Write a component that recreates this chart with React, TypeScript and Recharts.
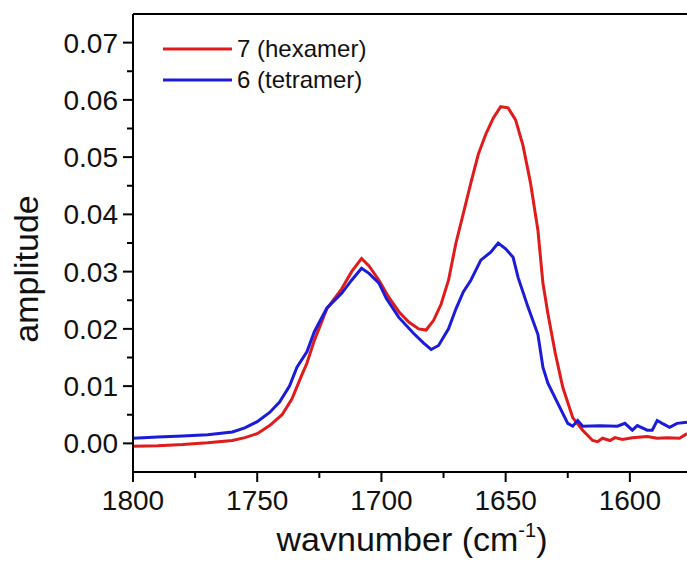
import { LineChart, Line, XAxis, YAxis, ReferenceLine } from "recharts";

// 7 (hexamer) — red trace
const hexWave = [
  1800, 1790, 1780, 1770, 1760, 1755, 1750, 1745, 1740, 1736, 1732, 1730, 1727, 1722, 1716, 1712,
  1708, 1705, 1701, 1697, 1693, 1689, 1685, 1682, 1679, 1676, 1673, 1670, 1667, 1664, 1661, 1658,
  1655, 1652, 1649, 1646, 1643, 1640, 1637, 1635, 1633, 1630, 1627, 1623, 1619, 1615, 1613, 1611,
  1608, 1606, 1603, 1599, 1593, 1589, 1585, 1580, 1577,
];
const hexAmp = [
  -0.0005, -0.0004, -0.0002, 0.0001, 0.0005, 0.001, 0.0017, 0.0031, 0.005, 0.0078, 0.012, 0.014,
  0.018, 0.0235, 0.027, 0.03, 0.0323, 0.031, 0.0285, 0.0255, 0.023, 0.0212, 0.02, 0.0198, 0.0215,
  0.0243, 0.0285, 0.035, 0.0402, 0.0455, 0.0505, 0.054, 0.0568, 0.0588, 0.0586, 0.0565, 0.052,
  0.0455, 0.0372, 0.028, 0.0227, 0.0157, 0.0098, 0.0045, 0.0023, 0.0005, 0.0003, 0.0009, 0.0005,
  0.001, 0.0007, 0.001, 0.0012, 0.0009, 0.001, 0.0009, 0.0017,
];

// 6 (tetramer) — blue trace
const tetWave = [
  1800, 1790, 1780, 1770, 1760, 1755, 1750, 1745, 1741, 1737, 1734, 1730, 1727, 1722, 1716, 1712,
  1708, 1705, 1701, 1698, 1693, 1687, 1683, 1680, 1677, 1673, 1670, 1667, 1664, 1660, 1656, 1653,
  1650, 1647, 1645, 1641, 1637, 1635, 1633, 1629, 1625, 1623, 1621, 1619, 1612, 1605, 1602, 1599,
  1597, 1593, 1591, 1589, 1587, 1584, 1581, 1577,
];
const tetAmp = [
  0.0009, 0.0011, 0.0013, 0.0015, 0.002, 0.0027, 0.0038, 0.0054, 0.0072, 0.01, 0.0133, 0.016,
  0.0195, 0.0236, 0.0262, 0.0285, 0.0306, 0.0297, 0.028, 0.0253, 0.022, 0.0192, 0.0175, 0.0164,
  0.0171, 0.02, 0.0235, 0.0265, 0.0285, 0.032, 0.0334, 0.035, 0.034, 0.0325, 0.029, 0.0238, 0.019,
  0.0133, 0.0105, 0.007, 0.0035, 0.003, 0.004, 0.003, 0.0031, 0.003, 0.0035, 0.0023, 0.0031,
  0.0023, 0.0023, 0.004, 0.0035, 0.0028, 0.0035, 0.0037,
];

const xTicks = [1800, 1775, 1750, 1725, 1700, 1675, 1650, 1625, 1600];
const yTicks = [
  0, 0.005, 0.01, 0.015, 0.02, 0.025, 0.03, 0.035, 0.04, 0.045, 0.05, 0.055, 0.06, 0.065, 0.07,
];

const hexData = hexWave.map((w, i) => ({ w, a: hexAmp[i] }));
const tetData = tetWave.map((w, i) => ({ w, a: tetAmp[i] }));

const RED = "#e01b1b";
const BLUE = "#1c1cd8";
const FONT = "'Liberation Sans', Arial, sans-serif";

const legendItems = [
  { name: "7 (hexamer)", color: RED },
  { name: "6 (tetramer)", color: BLUE },
];

function YTick(props: any) {
  const { x, y, payload } = props;
  const major = Math.round(payload.value * 1000) % 10 === 0;
  return (
    <g>
      <line x1={x} x2={x - (major ? 10 : 6)} y1={y} y2={y} stroke="#000" strokeWidth={2} />
      {major && (
        <text x={x - 15} y={y} dy="0.36em" textAnchor="end" fontSize={28} fontFamily={FONT} fill="#111">
          {payload.value.toFixed(2)}
        </text>
      )}
    </g>
  );
}

function XTick(props: any) {
  const { x, y, payload } = props;
  const major = payload.value % 50 === 0;
  return (
    <g>
      <line x1={x} x2={x} y1={y} y2={y + (major ? 10 : 6)} stroke="#000" strokeWidth={2} />
      {major && (
        <text x={x} y={y + 38} textAnchor="middle" fontSize={28} fontFamily={FONT} fill="#111">
          {payload.value}
        </text>
      )}
    </g>
  );
}

export default function App() {
  return (
    <div style={{ position: "absolute", left: 0, top: 0, width: 687, height: 562, background: "#fff" }}>
      <LineChart width={687} height={562} margin={{ top: 14, right: 0, bottom: 0, left: 0 }}>
        <XAxis
          type="number"
          dataKey="w"
          domain={[1577, 1800]}
          reversed
          allowDataOverflow
          ticks={xTicks}
          interval={0}
          height={90}
          tickSize={0}
          tickMargin={0}
          tick={<XTick />}
          axisLine={{ stroke: "#000", strokeWidth: 2 }}
        />
        <YAxis
          type="number"
          domain={[-0.005, 0.075]}
          allowDataOverflow
          ticks={yTicks}
          interval={0}
          width={133}
          tickSize={0}
          tickMargin={0}
          tick={<YTick />}
          axisLine={{ stroke: "#000", strokeWidth: 2 }}
        />
        <ReferenceLine y={0.075} stroke="#000" strokeWidth={2} />
        <Line
          data={hexData}
          dataKey="a"
          name="7 (hexamer)"
          stroke={RED}
          strokeWidth={3}
          dot={false}
          type="linear"
          isAnimationActive={false}
        />
        <Line
          data={tetData}
          dataKey="a"
          name="6 (tetramer)"
          stroke={BLUE}
          strokeWidth={3}
          dot={false}
          type="linear"
          isAnimationActive={false}
        />
      </LineChart>
      <svg
        width={687}
        height={562}
        style={{ position: "absolute", left: 0, top: 0, pointerEvents: "none" }}
      >
        {legendItems.map((it, i) => (
          <g key={it.name}>
            <line x1={163} x2={232} y1={49 + i * 31} y2={49 + i * 31} stroke={it.color} strokeWidth={3} />
            <text x={237} y={57 + i * 31} fontSize={24} fontFamily={FONT} fill="#111">
              {it.name}
            </text>
          </g>
        ))}
        <text x={412} y={551} textAnchor="middle" fontSize={34} fontFamily={FONT} fill="#111">
          <tspan>wavnumber (cm</tspan>
          <tspan dy={-14} fontSize={20}>-1</tspan>
          <tspan dy={14}>)</tspan>
        </text>
        <text
          x={38}
          y={269}
          textAnchor="middle"
          fontSize={34}
          fontFamily={FONT}
          fill="#111"
          transform="rotate(-90, 38, 269)"
        >
          amplitude
        </text>
      </svg>
    </div>
  );
}
